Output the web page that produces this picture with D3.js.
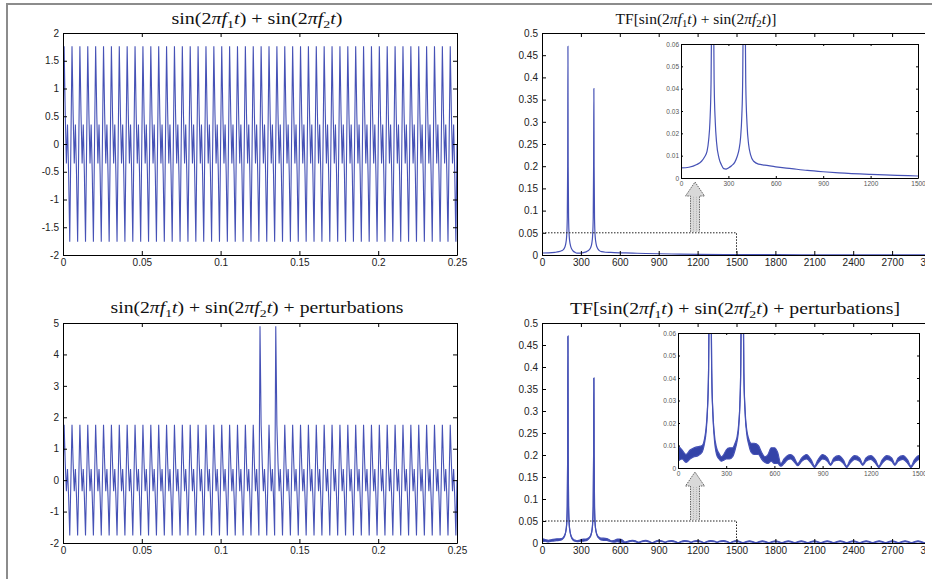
<!DOCTYPE html>
<html>
<head>
<meta charset="utf-8">
<script src="https://cdn.jsdelivr.net/npm/d3@7"></script>
<style>
  html, body { margin: 0; padding: 0; background: #fff; }
  svg { display: block; }
</style>
</head>
<body>
<div id="chart"></div>
<script>
// ---- values ----

// time signal: sin(2*pi*200t) + sin(2*pi*400t), 50 identical cycles in 0.25 s,
// one cycle read as 7 samples
const timeRange = [0, 0.25];
const cycleCount = 50;
const cycleValues = [0, 1.76, 0.54, -0.35, 0.35, -0.54, -1.76];
// the two spikes of the perturbed signal
const perturbTimes = [0.125, 0.135];
const perturbValues = [4.9, 4.9];

// spectrum of the clean signal
const cleanFreq = [0, 50, 100, 130, 150, 165, 175, 183, 190, 195,
  198, 200, 202, 205, 210, 217, 225, 240, 255, 270,
  285, 300, 320, 340, 355, 368, 377, 385, 390, 395,
  398, 400, 402, 405, 410, 418, 428, 440, 460, 490,
  530, 600, 700, 800, 900, 1000, 1200, 1500, 2000, 2500,
  3000];
const cleanMag = [0.0045, 0.0048, 0.006, 0.0075, 0.0095, 0.012, 0.017, 0.025, 0.042, 0.084,
  0.2, 0.47, 0.2, 0.084, 0.042, 0.025, 0.016, 0.009, 0.006, 0.0042,
  0.004, 0.0045, 0.0055, 0.007, 0.0095, 0.013, 0.018, 0.028, 0.042, 0.084,
  0.2, 0.375, 0.2, 0.084, 0.042, 0.024, 0.015, 0.0105, 0.0075, 0.0062,
  0.0058, 0.005, 0.0042, 0.0034, 0.0028, 0.0023, 0.0016, 0.0009, 0.0006, 0.0004,
  0.0003];

// spectrum of the perturbed signal: lower and upper edge of the dense band
const pertFreq = [0, 25, 50, 75, 100, 125, 150, 165, 175, 183,
  190, 195, 198, 200, 202, 205, 210, 217, 225, 240,
  255, 270, 285, 300, 320, 340, 355, 368, 377, 385,
  390, 395, 398, 400, 402, 405, 410, 418, 428, 440,
  455, 475, 500, 520, 540, 560, 580, 600, 620, 640,
  660, 680, 700, 720, 745, 770, 800, 830, 850, 870,
  900, 930, 950, 970, 1000, 1030, 1050, 1070, 1100, 1130,
  1150, 1170, 1200, 1230, 1250, 1270, 1300, 1330, 1350, 1370,
  1400, 1430, 1450, 1470, 1500, 1550, 1600, 1650, 1700, 1750,
  1800, 1850, 1900, 1950, 2000, 2050, 2100, 2150, 2200, 2250,
  2300, 2350, 2400, 2450, 2500, 2550, 2600, 2650, 2700, 2750,
  2800, 2850, 2900, 2950, 3000];
const pertLow = [0.003, 0.004, 0.0025, 0.004, 0.005, 0.0055, 0.007, 0.011, 0.016, 0.025,
  0.042, 0.084, 0.2, 0.47, 0.2, 0.084, 0.042, 0.024, 0.014, 0.006,
  0.004, 0.003, 0.0035, 0.004, 0.004, 0.005, 0.008, 0.012, 0.017, 0.028,
  0.042, 0.084, 0.2, 0.375, 0.2, 0.084, 0.042, 0.024, 0.015, 0.0105,
  0.007, 0.006, 0.006, 0.004, 0.0025, 0.002, 0.003, 0.002, 0.002, 0.0008,
  0.002, 0.0035, 0.004, 0.003, 0.001, 0.003, 0.004, 0.002, 0.0002, 0.002,
  0.004, 0.003, 0.0012, 0.003, 0.0035, 0.002, 0.0002, 0.002, 0.0038, 0.003,
  0.0012, 0.003, 0.0038, 0.002, 0.0002, 0.002, 0.0038, 0.003, 0.0012, 0.003,
  0.0038, 0.002, 0.0002, 0.002, 0.0038, 0.0004, 0.0033, 0.0004, 0.0033, 0.0004,
  0.0033, 0.0004, 0.0033, 0.0004, 0.0033, 0.0004, 0.0033, 0.0004, 0.0033, 0.0004,
  0.0033, 0.0004, 0.0033, 0.0004, 0.0033, 0.0004, 0.0033, 0.0004, 0.0033, 0.0004,
  0.0033, 0.0004, 0.0033, 0.0004, 0.0033];
const pertHigh = [0.010, 0.008, 0.006, 0.008, 0.009, 0.0095, 0.010, 0.013, 0.018, 0.026,
  0.042, 0.084, 0.2, 0.47, 0.2, 0.084, 0.042, 0.025, 0.016, 0.009,
  0.0065, 0.005, 0.006, 0.008, 0.009, 0.009, 0.011, 0.014, 0.019, 0.028,
  0.042, 0.084, 0.2, 0.375, 0.2, 0.084, 0.042, 0.025, 0.017, 0.013,
  0.011, 0.011, 0.010, 0.007, 0.005, 0.006, 0.009, 0.009, 0.007, 0.002,
  0.004, 0.0055, 0.006, 0.005, 0.002, 0.0045, 0.006, 0.0035, 0.0008, 0.0035,
  0.006, 0.0045, 0.0018, 0.0045, 0.0055, 0.0035, 0.0008, 0.0035, 0.0055, 0.0045,
  0.0018, 0.0045, 0.0055, 0.0035, 0.0008, 0.0035, 0.0055, 0.0045, 0.0018, 0.0045,
  0.0055, 0.0035, 0.0008, 0.0035, 0.0055, 0.001, 0.005, 0.001, 0.005, 0.001,
  0.005, 0.001, 0.005, 0.001, 0.005, 0.001, 0.005, 0.001, 0.005, 0.001,
  0.005, 0.001, 0.005, 0.001, 0.005, 0.001, 0.005, 0.001, 0.005, 0.001,
  0.005, 0.001, 0.005, 0.001, 0.005];

// ticks
const timeTicks = [0, 0.05, 0.1, 0.15, 0.2, 0.25];
const sigTicksTop = [-2, -1.5, -1, -0.5, 0, 0.5, 1, 1.5, 2];
const sigTicksBottom = [-2, -1, 0, 1, 2, 3, 4, 5];
const freqTicks = [0, 300, 600, 900, 1200, 1500, 1800, 2100, 2400, 2700, 3000];
const magTicks = [0, 0.05, 0.1, 0.15, 0.2, 0.25, 0.3, 0.35, 0.4, 0.45, 0.5];
const zoomFreqTicks = [0, 300, 600, 900, 1200, 1500];
const zoomMagTicks = [0, 0.01, 0.02, 0.03, 0.04, 0.05, 0.06];

// titles: [text, style]  i = italic, s = subscript
const expr = [["sin(2", ""], ["\u03c0f", "i"], ["1", "s"], ["t", "i"], [") + sin(2", ""],
  ["\u03c0f", "i"], ["2", "s"], ["t", "i"], [")", ""]];
const titleParts = [
  expr,
  [["TF[", ""], ...expr, ["]", ""]],
  [...expr, [" + perturbations", ""]],
  [["TF[", ""], ...expr, [" + perturbations]", ""]]
];

// ---- layout ----
const W = 932, H = 579;
const lineBlue = "#4652b6";
const bandBlue = "#3443a8";
const tickFont = "'Liberation Sans', Arial, sans-serif";

const svg = d3.select("#chart").append("svg")
  .attr("width", W).attr("height", H)
  .style("background", "#fff");
const defs = svg.append("defs");

function addClip(id, x0, y0, x1, y1) {
  defs.append("clipPath").attr("id", id).append("rect")
    .attr("x", x0).attr("y", y0).attr("width", x1 - x0).attr("height", y1 - y0);
  return `url(#${id})`;
}

// outer frame (only top and left edge are inside the picture)
svg.append("path")
  .attr("d", `M7,${H} V4 H${W}`)
  .attr("fill", "none").attr("stroke", "#8c8c8c").attr("stroke-width", 2);

const fmt = (d) => String(+d.toFixed(3));

// matlab-like box: ticks inside on all four sides
function drawAxes(g, x, y, xt, yt, o) {
  const [x0, x1] = x.range();
  const [yb, yt0] = y.range();
  const style = (s) => s.attr("font-family", tickFont).attr("font-size", o.font).attr("color", "#000");
  g.append("g").attr("transform", `translate(0,${yb})`)
    .call(d3.axisBottom(x).tickValues(xt).tickSizeInner(-o.tick).tickSizeOuter(0)
      .tickPadding(o.padX).tickFormat(fmt)).call(style);
  g.append("g").attr("transform", `translate(0,${yt0})`)
    .call(d3.axisTop(x).tickValues(xt).tickSizeInner(-o.tick).tickSizeOuter(0).tickFormat(""))
    .call(style);
  g.append("g").attr("transform", `translate(${x0},0)`)
    .call(d3.axisLeft(y).tickValues(yt).tickSizeInner(-o.tick).tickSizeOuter(0)
      .tickPadding(o.padY).tickFormat(fmt)).call(style);
  g.append("g").attr("transform", `translate(${x1},0)`)
    .call(d3.axisRight(y).tickValues(yt).tickSizeInner(-o.tick).tickSizeOuter(0).tickFormat(""))
    .call(style);
  g.selectAll(".tick text").attr("fill", o.color);
  g.selectAll(".domain, .tick line").attr("stroke-width", o.stroke || 1);
}

function drawTitle(parts, cx, y, size, len) {
  const t = svg.append("text")
    .attr("x", cx).attr("y", y)
    .attr("text-anchor", "middle")
    .attr("font-family", "'Liberation Serif', 'Times New Roman', serif")
    .attr("font-size", size)
    .attr("fill", "#111");
  if (len) t.attr("textLength", len).attr("lengthAdjust", "spacingAndGlyphs");
  let shifted = false;
  parts.forEach(([txt, st]) => {
    const s = t.append("tspan").text(txt);
    if (st === "i") s.attr("font-style", "italic");
    if (st === "s") {
      s.attr("font-size", size * 0.7).attr("dy", size * 0.22);
      shifted = true;
    } else if (shifted) {
      s.attr("dy", -size * 0.22);
      shifted = false;
    }
  });
}

// ---- time signals ----
const nSamples = cycleCount * cycleValues.length;
const dt = (timeRange[1] - timeRange[0]) / nSamples;
const signal = d3.range(nSamples + 1).map((i) => ({
  t: timeRange[0] + i * dt,
  v: cycleValues[i % cycleValues.length]
}));
const signalPert = signal.map((d) => ({ ...d }));
perturbTimes.forEach((pt, k) => {
  const idx = d3.minIndex(signalPert, (d) => Math.abs(d.t - pt));
  signalPert[idx].v = perturbValues[k];
});

function signalPanel(data, yDomain, yRange, yTicks, clipId) {
  const x = d3.scaleLinear().domain(timeRange).range([63, 457]);
  const y = d3.scaleLinear().domain(yDomain).range(yRange);
  const clip = addClip(clipId, 63, yRange[1], 457, yRange[0]);
  svg.append("path")
    .datum(data)
    .attr("clip-path", clip)
    .attr("fill", "none")
    .attr("stroke", lineBlue)
    .attr("stroke-width", 1.1)
    .attr("d", d3.line().x((d) => x(d.t)).y((d) => y(d.v)));
  drawAxes(svg.append("g"), x, y, timeTicks, yTicks,
    { font: 10, tick: 4, padX: 4, padY: 4, color: "#222" });
}

signalPanel(signal, [-2, 2], [255, 33], sigTicksTop, "clipSigTop");
signalPanel(signalPert, [-2, 5], [543, 323], sigTicksBottom, "clipSigBot");

// ---- spectra ----
const cleanData = cleanFreq.map((f, i) => ({ f, lo: cleanMag[i], hi: cleanMag[i] }));
const pertData = pertFreq.map((f, i) => ({ f, lo: pertLow[i], hi: pertHigh[i] }));
// the picture is cut just after the last tick, so the right column is clipped there
const columnClip = addClip("clipColumn", 470, 0, 925, H);

function drawSpectrum(g, data, x, y, clip, band) {
  const gg = g.append("g").attr("clip-path", clip);
  if (band) {
    gg.append("path").datum(data)
      .attr("fill", bandBlue)
      .attr("d", d3.area().curve(d3.curveMonotoneX)
        .x((d) => x(d.f)).y0((d) => y(d.lo)).y1((d) => y(d.hi)));
  }
  ["lo", "hi"].forEach((k) => {
    if (!band && k === "hi") return;
    gg.append("path").datum(data)
      .attr("fill", "none")
      .attr("stroke", lineBlue)
      .attr("stroke-width", 1.2)
      .attr("d", d3.line().curve(d3.curveMonotoneX).x((d) => x(d.f)).y((d) => y(d[k])));
  });
}

function spectrumPanel(data, band, top, bottom, inset, ids) {
  const g = svg.append("g").attr("clip-path", columnClip);
  const x = d3.scaleLinear().domain([0, 3000]).range([542, 931]);
  const y = d3.scaleLinear().domain([0, 0.5]).range([bottom, top]);
  drawSpectrum(g, data, x, y, addClip(ids[0], 542, top, 931, bottom), band);
  drawAxes(g.append("g"), x, y, freqTicks, magTicks,
    { font: 10, tick: 4, padX: 4, padY: 4, color: "#222" });

  // dotted zoom window
  g.append("path")
    .attr("d", `M${x(0)},${y(0.05)} H${x(1500)} V${y(0)}`)
    .attr("fill", "none").attr("stroke", "#222")
    .attr("stroke-width", 1).attr("stroke-dasharray", "1.5,1.5");

  // inset
  const xi = d3.scaleLinear().domain([0, 1500]).range(inset.x);
  const yi = d3.scaleLinear().domain([0, 0.06]).range(inset.y);
  g.append("rect")
    .attr("x", inset.x[0]).attr("y", inset.y[1])
    .attr("width", inset.x[1] - inset.x[0]).attr("height", inset.y[0] - inset.y[1])
    .attr("fill", "#fff");
  drawSpectrum(g, data, xi, yi, addClip(ids[1], inset.x[0], inset.y[1], inset.x[1], inset.y[0]), band);
  drawAxes(g.append("g"), xi, yi, zoomFreqTicks, zoomMagTicks,
    { font: 6.5, tick: 2, padX: 3, padY: 2, color: "#555" });

  // arrow from the window up to the inset
  const xc = x(1180);
  const yb = y(0.05) - 1;
  const tip = inset.y[0] + 4;
  const yh = tip + 14;
  g.append("path")
    .attr("d", `M${xc - 4.5},${yb} V${yh} H${xc - 9.5} L${xc},${tip} L${xc + 9.5},${yh} H${xc + 4.5} V${yb}`)
    .attr("fill", "#d9d9d9")
    .attr("stroke", "#555").attr("stroke-width", 0.9)
    .attr("stroke-dasharray", "1.5,1");
  g.append("path")
    .attr("d", `M${xc - 1.5},${yb} V${yh} M${xc + 1.5},${yb} V${yh}`)
    .attr("stroke", "#999").attr("stroke-width", 0.6)
    .attr("stroke-dasharray", "1,1");
}

spectrumPanel(cleanData, false, 33, 255, { x: [681, 918], y: [178, 44] }, ["clipFftTop", "clipZoomTop"]);
spectrumPanel(pertData, true, 323, 543, { x: [678, 919], y: [468, 333] }, ["clipFftBot", "clipZoomBot"]);

// ---- titles ----
drawTitle(titleParts[0], 257, 24, 16, 171);
drawTitle(titleParts[1], 696, 24, 15.5, null);
drawTitle(titleParts[2], 257, 313, 16, 293);
drawTitle(titleParts[3], 735, 314, 16, 330);
</script>
</body>
</html>
